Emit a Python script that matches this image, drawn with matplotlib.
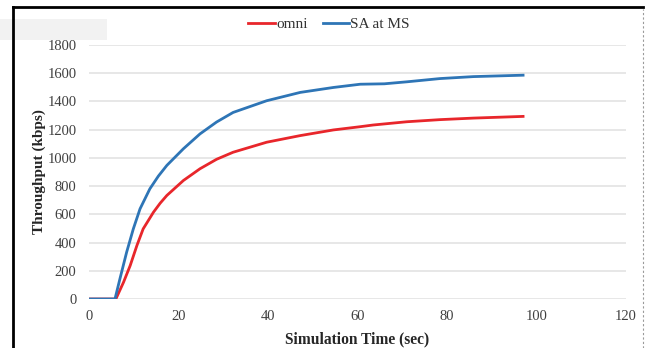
import matplotlib
matplotlib.use("Agg")
import matplotlib.pyplot as plt
from matplotlib.lines import Line2D
from matplotlib.patches import Rectangle

# Data
t_omni = [0, 6, 7.7, 9.2, 10.7, 12.1, 14.4, 15.9, 17.4, 21.1, 24.8, 28.5, 32.2,
          39.7, 47.2, 54.6, 60.6, 63.5, 71, 78.4, 85.9, 97]
omni = [0, 0, 118, 237, 379, 497, 615, 679, 734, 840, 923, 990, 1040,
        1111, 1158, 1198, 1221, 1233, 1256, 1271, 1282, 1294]

t_sa = [0, 5.8, 6.9, 8.4, 9.9, 11.4, 13.6, 15.5, 17.4, 21.1, 24.8, 28.5, 32.2,
        39.7, 47.2, 54.6, 60.6, 66, 71, 78.4, 85.9, 97]
sa_ms = [0, 0, 142, 331, 497, 639, 781, 871, 947, 1065, 1170, 1254, 1322,
         1405, 1464, 1499, 1522, 1525, 1539, 1562, 1576, 1586]

series_names = ["omni", "SA at MS"]
x_ticks = [0, 20, 40, 60, 80, 100, 120]
y_ticks = [0, 200, 400, 600, 800, 1000, 1200, 1400, 1600, 1800]

RED = "#e8262b"
BLUE = "#2e75b6"
serif = ["Liberation Serif", "DejaVu Serif"]

fig = plt.figure(figsize=(6.57, 3.48), dpi=100)
fig.patch.set_facecolor("white")

# faint watermark shape
fig.patches.append(Rectangle((0, 0.885), 0.163, 0.06, transform=fig.transFigure,
                             facecolor="#f2f2f2", edgecolor="none", zorder=0))

ax = fig.add_axes([0.1355, 0.1408, 0.8173, 0.7299])
ax.set_xlim(0, 120)
ax.set_ylim(0, 1800)
ax.set_xticks(x_ticks)
ax.set_yticks(y_ticks)
ax.grid(axis="y", color="#e3e3e3", linewidth=1.2)
ax.set_axisbelow(True)
for s in ax.spines.values():
    s.set_visible(False)
ax.tick_params(axis="y", length=0, pad=9, labelsize=10.5, labelcolor="#404040")
ax.tick_params(axis="x", length=0, pad=8, labelsize=10.5, labelcolor="#404040")
for lbl in ax.get_xticklabels() + ax.get_yticklabels():
    lbl.set_family(serif)

ax.plot(t_omni, omni, color=RED, linewidth=2, label=series_names[0], zorder=3)
ax.plot(t_sa, sa_ms, color=BLUE, linewidth=2, label=series_names[1], zorder=3)

ax.set_xlabel("Simulation Time (sec)", family=serif, fontweight="bold",
              fontsize=11.2, color="#262626", labelpad=6)
ax.set_ylabel("Throughput (kbps)", family=serif, fontweight="bold",
              fontsize=11, color="#262626", labelpad=1)

leg = ax.legend(loc="lower center", bbox_to_anchor=(0.447, 1.055), ncol=2,
                frameon=False, handlelength=1.75, handletextpad=0.05,
                columnspacing=1.0, borderaxespad=0, borderpad=0,
                prop={"family": serif, "size": 11})
for txt in leg.get_texts():
    txt.set_color("#333333")

# outer frame: black left and top, dashed gray right
fig.add_artist(Line2D([0.0198, 0.0198], [0, 0.98], transform=fig.transFigure,
                      color="black", linewidth=2))
fig.add_artist(Line2D([0.0198, 0.978], [0.98, 0.98], transform=fig.transFigure,
                      color="black", linewidth=2))
fig.add_artist(Line2D([0.978, 0.978], [0, 0.975], transform=fig.transFigure,
                      color="#9a9a9a", linewidth=0.8, linestyle=(0, (2, 2))))

fig.savefig("out.png", dpi=100)
